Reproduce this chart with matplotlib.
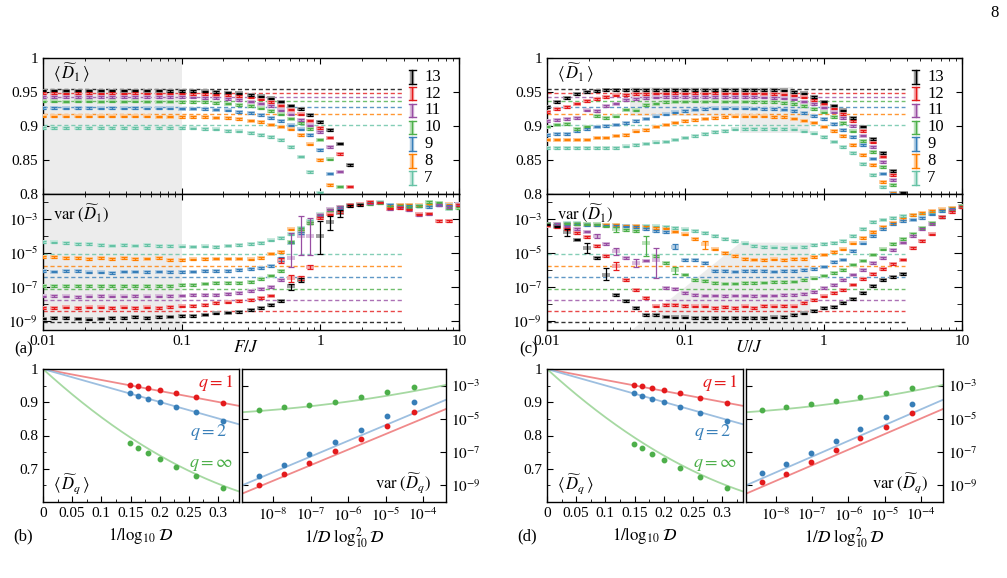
import numpy as np
import matplotlib
matplotlib.use("Agg")
import matplotlib.pyplot as plt
from matplotlib.colors import to_rgb
from matplotlib.ticker import FixedLocator, FuncFormatter, NullFormatter, LogLocator

plt.rcParams['font.family'] = 'serif'
plt.rcParams['font.serif'] = ['Liberation Serif', 'DejaVu Serif']
plt.rcParams['mathtext.fontset'] = 'stix'
plt.rcParams['font.size'] = 11
plt.rcParams['axes.linewidth'] = 1.0

# --- system sizes and colours ---
sizes = [13, 12, 11, 10, 9, 8, 7]
colors = ['#000000', '#e41a1c', '#984ea3', '#4daf4a', '#377eb8', '#ff7f00', '#66c2a5']

# --- x grids (F/J for panel a, U/J for panel c) ---
xa = [0.01, 0.0121, 0.0147, 0.0178, 0.0215, 0.0261, 0.0316, 0.0383, 0.0464, 0.0562,
      0.0681, 0.0825, 0.1, 0.121, 0.147, 0.178, 0.215, 0.261, 0.316, 0.373,
      0.439, 0.518, 0.611, 0.72, 0.848, 1.0, 1.18, 1.39, 1.64, 1.93,
      2.28, 2.68, 3.16, 3.73, 4.39, 5.18, 6.11, 7.2, 8.48, 10.0]
xc = [0.01, 0.0118, 0.0139, 0.0164, 0.0193, 0.0228, 0.0268, 0.0316, 0.0373, 0.0439,
      0.0518, 0.0611, 0.072, 0.0848, 0.1, 0.118, 0.139, 0.164, 0.193, 0.228,
      0.268, 0.316, 0.373, 0.439, 0.518, 0.611, 0.72, 0.848, 1.0, 1.18,
      1.39, 1.64, 1.93, 2.28, 2.68, 3.16, 3.73, 4.39, 5.18, 6.11,
      7.2, 8.48, 10.0]

# --- reference (dashed) levels, same in both panels ---
ref_mean = [0.954, 0.949, 0.943, 0.937, 0.928, 0.917, 0.902]
ref_var = [-9.08, -8.43, -7.75, -7.10, -6.43, -5.75, -5.04]  # log10
ref_xmax = 3.9

# --- panel (a): <D1> vs F/J ---
mean_a = [
    [0.9522, 0.9521, 0.9520, 0.9522, 0.9521, 0.9520, 0.9521, 0.9522, 0.9520, 0.9521, 0.9520, 0.9519, 0.9518,
     0.9515, 0.951, 0.950, 0.949, 0.948, 0.946, 0.9435, 0.9405, 0.936, 0.930, 0.925, 0.916, 0.906, 0.894, 0.874, 0.843],
    [0.9482, 0.9481, 0.9480, 0.9482, 0.9481, 0.9480, 0.9481, 0.9480, 0.9481, 0.9480, 0.9479, 0.9479, 0.9478,
     0.9475, 0.947, 0.9462, 0.9452, 0.944, 0.942, 0.939, 0.935, 0.930, 0.924, 0.917, 0.908, 0.897, 0.883, 0.859, 0.811],
    [0.9428, 0.9427, 0.9426, 0.9428, 0.9427, 0.9426, 0.9427, 0.9426, 0.9427, 0.9426, 0.9425, 0.9424, 0.9422,
     0.942, 0.9415, 0.941, 0.940, 0.938, 0.936, 0.933, 0.929, 0.923, 0.917, 0.909, 0.901, 0.891, 0.869, 0.833],
    [0.9362, 0.9361, 0.9360, 0.9362, 0.9361, 0.9360, 0.9361, 0.9360, 0.9361, 0.9360, 0.9359, 0.9358, 0.9357,
     0.9355, 0.935, 0.934, 0.933, 0.931, 0.929, 0.926, 0.922, 0.917, 0.911, 0.904, 0.896, 0.880, 0.851, 0.811],
    [0.9262, 0.9261, 0.9260, 0.9262, 0.9261, 0.9260, 0.9261, 0.9260, 0.9261, 0.9260, 0.9259, 0.9258, 0.9257,
     0.9255, 0.925, 0.924, 0.923, 0.921, 0.919, 0.916, 0.912, 0.907, 0.901, 0.895, 0.887, 0.865, 0.830],
    [0.9142, 0.9141, 0.9140, 0.9142, 0.9141, 0.9140, 0.9141, 0.9140, 0.9141, 0.9140, 0.9139, 0.9138, 0.9137,
     0.9135, 0.913, 0.9125, 0.912, 0.910, 0.908, 0.906, 0.902, 0.899, 0.895, 0.887, 0.873, 0.850, 0.813],
    [0.8972, 0.8971, 0.8970, 0.8972, 0.8971, 0.8970, 0.8971, 0.8970, 0.8971, 0.8970, 0.8969, 0.8968, 0.8967,
     0.8965, 0.896, 0.895, 0.893, 0.892, 0.890, 0.887, 0.884, 0.879, 0.869, 0.855, 0.832, 0.802],
]
# log10 var(D1) vs F/J
var_a = [
    [-8.85, -8.82, -8.82, -8.85, -8.9, -8.85, -8.8, -8.8, -8.75, -8.8, -8.75, -8.73, -8.7, -8.68, -8.62,
     -8.55, -8.5, -8.45, -8.33, -8.24, -8.06, -7.8, -6.96, -6.57, None, -4.0, -3.2, -2.65, -2.25, -2.2],
    [-8.25, -8.22, -8.2, -8.22, -8.2, -8.2, -8.22, -8.2, -8.22, -8.2, -8.22, -8.18, -8.14, -8.1, -8.05,
     -7.94, -7.9, -7.8, -7.75, -7.65, -7.5, -5.45, -6.5, -6.47, -5.82, -2.95, -2.75, -2.6, -2.2, -2.16,
     -2.0, -2.05, -2.4, -2.35, -2.45, -2.75, -2.7, -3.14, -3.14, -2.2],
    [-7.55, -7.52, -7.55, -7.57, -7.55, -7.52, -7.55, -7.55, -7.52, -7.55, -7.55, -7.52, -7.5, -7.48, -7.48,
     -7.45, -7.4, -7.35, -7.25, -7.1, -7.0, -6.6, -5.3, -4.0, -4.0, -2.8, -2.45, -2.33, -2.2, -2.16,
     -2.1, -2.05, -2.45, -2.3, -2.5, -2.8, -2.75, -2.2, -2.3, -2.16],
    [-6.95, -6.95, -6.95, -6.93, -6.95, -6.95, -6.93, -6.95, -6.95, -6.95, -6.93, -6.93, -6.9, -6.88, -6.8,
     -6.75, -6.75, -6.75, -6.7, -6.53, -6.33, -6.08, -4.37, -3.59, -3.24, -2.8, -2.48, -2.33, -2.2, -2.16,
     -2.14, -2.08, -2.3, -2.25, -2.3, -2.25, -2.02, -2.05, -2.35, -2.35],
    [-6.05, -6.1, -6.08, -6.08, -6.15, -6.15, -6.18, -6.1, -6.1, -6.12, -6.1, -6.12, -6.12, -6.1, -6.08,
     -6.07, -6.05, -6.0, -5.95, -5.88, -5.78, -5.35, -4.4, -3.82, -3.24, -2.85, -2.5, -2.35, -2.2, -2.16,
     -2.08, -2.05, -2.2, -2.25, -2.25, -2.25, -2.3, -2.22, -2.22, -2.2],
    [-5.25, -5.25, -5.3, -5.28, -5.35, -5.3, -5.35, -5.28, -5.35, -5.33, -5.3, -5.4, -5.42, -5.38, -5.36,
     -5.33, -5.33, -5.33, -5.38, -5.3, -5.04, -4.95, -3.63, -3.72, -3.24, -2.85, -2.48, -2.33, -2.2, -2.16,
     -2.05, -2.05, -2.25, -2.2, -2.2, -2.22, -2.2, -2.16, -2.16, -2.2],
    [-4.37, -4.39, -4.41, -4.47, -4.5, -4.55, -4.57, -4.55, -4.57, -4.55, -4.59, -4.6, -4.62, -4.63, -4.62,
     -4.65, -4.57, -4.52, -4.5, -4.42, -4.27, -4.12, -3.92, -3.53, -3.14, -2.75, -2.5, -2.35, -2.22, -2.16,
     -2.05, -2.03, -2.2, -2.2, -2.2, -2.25, -2.16, -2.16, -2.4, -2.25],
]
# large error bars: (size, index) -> (upper, lower) in log10
big_a = {(11, 22): (-3.85, -5.8), (11, 23): (-2.85, -5.1), (11, 24): (-2.95, -5.1),
         (13, 25): (-3.15, -5.05), (13, 26): (-2.85, -3.65), (13, 27): (-2.5, -2.9),
         (12, 22): (-6.3, -6.7), (13, 22): (-6.8, -7.15), (12, 21): (-5.3, -5.6),
         (12, 24): (-5.7, -5.95), (9, 21): (-5.25, -5.5), (12, 23): (-6.35, -6.6), (13, 23): (-6.45, -6.7)}

# --- panel (c): <D1> vs U/J ---
mean_c = [
    [0.928, 0.935, 0.941, 0.947, 0.950, 0.9515, 0.9525, 0.9530, 0.9531, 0.9530, 0.9531, 0.9530, 0.9531, 0.9530,
     0.9531, 0.9530, 0.9531, 0.9530, 0.9530, 0.9531, 0.9530, 0.9529, 0.9528, 0.9527, 0.9523, 0.950, 0.948,
     0.943, 0.936, 0.930, 0.923, 0.912, 0.899, 0.881, 0.860, 0.834, 0.802],
    [0.921, 0.925, 0.928, 0.933, 0.937, 0.940, 0.943, 0.945, 0.946, 0.947, 0.9475, 0.948, 0.948, 0.9481,
     0.948, 0.9481, 0.948, 0.9481, 0.948, 0.948, 0.9479, 0.9478, 0.9476, 0.9472, 0.9465, 0.945, 0.942,
     0.938, 0.933, 0.926, 0.918, 0.907, 0.893, 0.876, 0.855, 0.828, 0.797],
    [0.907, 0.909, 0.910, 0.912, 0.923, 0.922, 0.929, 0.933, 0.938, 0.940, 0.941, 0.942, 0.9425, 0.9426,
     0.9425, 0.9426, 0.9425, 0.9426, 0.9425, 0.9425, 0.9424, 0.9423, 0.942, 0.9415, 0.9405, 0.939, 0.936,
     0.932, 0.927, 0.920, 0.912, 0.900, 0.886, 0.869, 0.847, 0.821],
    [0.899, 0.902, 0.903, 0.896, 0.899, 0.915, 0.912, 0.914, 0.924, 0.923, 0.931, 0.933, 0.935, 0.9358,
     0.936, 0.9361, 0.936, 0.9361, 0.936, 0.936, 0.9359, 0.9357, 0.9354, 0.935, 0.934, 0.932, 0.929,
     0.925, 0.920, 0.913, 0.904, 0.892, 0.878, 0.862, 0.840, 0.813],
    [0.887, 0.888, 0.888, 0.893, 0.896, 0.899, 0.900, 0.902, 0.904, 0.907, 0.911, 0.914, 0.917, 0.920,
     0.922, 0.924, 0.925, 0.9258, 0.926, 0.926, 0.9259, 0.9257, 0.9254, 0.925, 0.924, 0.922, 0.919,
     0.915, 0.910, 0.903, 0.894, 0.884, 0.872, 0.852, 0.830, 0.801],
    [0.880, 0.880, 0.880, 0.880, 0.880, 0.883, 0.883, 0.886, 0.887, 0.892, 0.894, 0.899, 0.902, 0.905,
     0.907, 0.909, 0.911, 0.912, 0.913, 0.914, 0.914, 0.9142, 0.914, 0.9135, 0.913, 0.911, 0.908,
     0.905, 0.899, 0.893, 0.885, 0.872, 0.857, 0.843, 0.818, 0.802],
    [0.868, 0.868, 0.868, 0.868, 0.868, 0.868, 0.868, 0.868, 0.870, 0.872, 0.874, 0.876, 0.877, 0.880,
     0.883, 0.885, 0.888, 0.891, 0.893, 0.895, 0.896, 0.896, 0.896, 0.896, 0.8955, 0.895, 0.892,
     0.889, 0.884, 0.877, 0.869, 0.860, 0.844, 0.828, 0.810, 0.795],
]
var_c = [
    [-3.33, -3.45, -3.78, -4.22, -4.7, -5.29, -6.27, -7.45, -7.84, -8.24, -8.63, -8.63, -8.73, -8.78, -8.78,
     -8.8, -8.8, -8.82, -8.82, -8.83, -8.82, -8.8, -8.8, -8.78, -8.74, -8.65, -8.55, -8.4, -8.24, -8.18,
     -7.94, -7.7, -7.35, -6.96, -6.57, -6.4, -6.24],
    [-3.4, -3.5, -3.6, -3.82, -4.06, -4.6, -5.2, -5.75, -6.57, -7.16, -7.65, -8.14, -8.04, -8.04, -8.1,
     -8.14, -8.14, -8.24, -8.18, -8.24, -8.14, -8.24, -8.1, -8.14, -8.1, -8.14, -7.94, -7.75, -7.55, -7.35,
     -7.16, -6.86, -6.55, -6.25, -5.95, -5.65, -5.39, -4.7, -4.3, -3.92, -2.9, -2.6, -2.3],
    [-3.33, -3.3, -3.45, -3.6, -3.75, -4.02, -4.5, -4.9, -5.3, -5.59, -5.45, -5.4, -7.06, -7.1, -7.35,
     -7.45, -7.5, -7.5, -7.52, -7.5, -7.5, -7.52, -7.5, -7.5, -7.48, -7.48, -7.4, -7.3, -7.06, -6.9,
     -6.6, -6.27, -6.0, -5.59, -5.29, -4.85, -4.4, -4.0, -3.6, -3.3, -2.9, -2.5, -2.3],
    [-3.3, -3.3, -3.28, -3.3, -3.33, -3.33, -3.45, -3.63, -3.68, -3.73, -4.4, -5.2, -5.6, -5.98, -6.27,
     -6.6, -6.65, -6.75, -6.8, -6.8, -6.78, -6.76, -6.74, -6.72, -6.72, -6.68, -6.6, -6.5, -6.33, -6.2,
     -6.0, -5.69, -5.45, -5.1, -4.8, -4.5, -4.2, -3.9, -3.53, -3.25, -2.9, -2.45, -2.25],
    [-3.33, -3.33, -3.3, -3.33, -3.35, -3.35, -3.4, -3.42, -3.45, -3.5, -3.59, -3.7, -3.78, -4.65, -5.43,
     -5.43, -5.6, -6.08, -6.08, -6.1, -6.08, -6.06, -6.08, -6.1, -6.08, -6.05, -6.0, -5.95, -5.8, -5.55,
     -5.39, -4.9, -4.45, -4.02, -3.6, -3.3, -3.15, -3.05, -2.95, -2.75, -2.55, -2.4, -2.25],
    [-3.33, -3.33, -3.3, -3.3, -3.33, -3.35, -3.37, -3.38, -3.4, -3.42, -3.47, -3.53, -3.58, -3.75, -3.92,
     -4.2, -4.5, -4.8, -5.0, -5.2, -5.35, -5.39, -5.4, -5.38, -5.4, -5.35, -5.35, -5.25, -5.1, -4.95,
     -4.8, -4.45, -4.12, -3.78, -3.5, -3.27, -3.0, -2.8, -2.65, -2.55, -2.45, -2.35, -2.25],
    [-3.29, -3.29, -3.25, -3.27, -3.3, -3.33, -3.35, -3.37, -3.4, -3.43, -3.42, -3.45, -3.47, -3.55, -3.63,
     -3.72, -3.82, -4.02, -4.18, -4.3, -4.45, -4.6, -4.65, -4.68, -4.7, -4.68, -4.65, -4.55, -4.5, -4.42,
     -4.3, -4.0, -3.6, -3.2, -3.05, -2.95, -2.85, -2.8, -2.7, -2.6, -2.5, -2.35, -2.25],
]
big_c = {(13, 2): (-3.63, -4.02), (13, 4): (-4.4, -5.0), (13, 6): (-5.9, -6.6), (12, 7): (-5.55, -6.0),
         (11, 7): (-4.7, -5.1), (11, 9): (-5.35, -5.8), (11, 11): (-4.7, -6.47), (10, 10): (-4.0, -5.2),
         (10, 13): (-5.8, -6.25), (8, 16): (-4.3, -4.8), (9, 13): (-4.5, -4.8), (10, 7): (-3.5, -3.8),
         (11, 5): (-3.9, -4.15)}

# grey regions in panel (c)
shade_c_rects = [(0.04, 0.6, 0.914, 0.958), (0.25, 0.8, 0.89, 0.935)]
shade_c_var_x = [0.04, 0.25, 0.8, 0.8]
shade_c_var_y = [10 ** -9.6, 10 ** -4.4, 10 ** -4.4, 10 ** -9.6]

# --- panels (b), (d): scaling with Hilbert space dimension ---
dims = [5200300, 1352078, 352716, 92378, 24310, 6435, 1716]  # L = 13 ... 7
b_mean = {'1': [0.953, 0.948, 0.943, 0.936, 0.927, 0.915, 0.898],
          '2': [0.927, 0.920, 0.911, 0.901, 0.887, 0.870, 0.845],
          'inf': [0.777, 0.763, 0.747, 0.729, 0.705, 0.677, 0.642]}
b_var = {'1': [-9.0, -8.34, -7.64, -6.94, -6.24, -5.44, -4.56],
         '2': [-8.44, -7.8, -7.1, -6.4, -5.66, -4.84, -4.0],
         'inf': [-4.46, -4.3, -4.14, -3.96, -3.7, -3.4, -3.1]}
d_mean = {'1': [0.953, 0.948, 0.943, 0.937, 0.927, 0.914, 0.897],
          '2': [0.927, 0.920, 0.911, 0.901, 0.887, 0.869, 0.844],
          'inf': [0.775, 0.761, 0.745, 0.725, 0.702, 0.675, 0.642]}
d_var = {'1': [-8.8, -8.3, -7.6, -6.86, -6.16, -5.46, -4.64],
         '2': [-8.26, -7.74, -7.06, -6.34, -5.6, -4.9, -4.1],
         'inf': [-4.46, -4.26, -4.1, -3.9, -3.66, -3.46, -3.14]}
# fit coefficients: mean = c0 + c1 x + c2 x^2 ; log10 var = c0 + c1 u + c2 u^2, u = log10(x) + 6
fit_mean = {'1': [1.0, -0.33, 0.0], '2': [1.0, -0.495, 0.0], 'inf': [1.0, -1.6, 1.5]}
fit_var = {'1': [-6.85, 0.94, 0.0], '2': [-6.32, 0.95, 0.0], 'inf': [-3.96, 0.309, 0.0291]}
q_pt_colors = {'1': '#e41a1c', '2': '#377eb8', 'inf': '#4daf4a'}
q_line_colors = {'1': '#f08a8b', '2': '#9dbfe0', 'inf': '#a6d9a2'}
q_labels = {'1': r'$q=1$', '2': r'$q=2$', 'inf': r'$q=\infty$'}

W, H = 1007, 578
TICK_FS = 11


def pos(x0, y0, x1, y1):
    return [x0 / W, 1 - y1 / H, (x1 - x0) / W, (y1 - y0) / H]


def light(c, a=0.38):
    r, g, b = to_rgb(c)
    return (1 - a * (1 - r), 1 - a * (1 - g), 1 - a * (1 - b))


def points(ax, x, y, lo, hi, c):
    ax.plot(x, y, ls='none', marker='_', ms=5.8, mew=2.8, color=light(c), zorder=3)
    ax.errorbar(x, y, yerr=[lo, hi], fmt='none', ecolor=c, elinewidth=0.9,
                capsize=1.9, capthick=0.9, zorder=4)


def pow_fmt(v, p):
    e = int(round(np.log10(v)))
    return r'$10^{%d}$' % e


def style_top(ax):
    ax.set_xscale('log')
    ax.set_xlim(0.01, 10)
    ax.tick_params(which='both', direction='in', top=True, right=True, labelsize=TICK_FS)
    ax.tick_params(which='major', length=4)
    ax.tick_params(which='minor', length=2)
    ax.xaxis.set_minor_locator(LogLocator(subs=np.arange(2, 10)))
    ax.xaxis.set_minor_formatter(NullFormatter())


def draw_mean(ax, x, data):
    style_top(ax)
    ax.set_ylim(0.8, 1.0)
    ax.set_yticks([0.8, 0.85, 0.9, 0.95, 1.0])
    ax.set_yticklabels(['0.8', '0.85', '0.9', '0.95', '1'])
    ax.tick_params(labelbottom=False)
    for i in range(6, -1, -1):
        c = colors[i]
        ax.plot([0.01, ref_xmax], [ref_mean[i], ref_mean[i]], ls=(0, (3, 2)), lw=1.0,
                color=c, alpha=0.8, zorder=2)
        y = np.array(data[i], dtype=float)
        xx = np.array(x[:len(y)])
        e = np.full(len(y), 0.0012)
        points(ax, xx, y, e, e, c)
    ax.text(0.025, 0.885, r'$\langle\,\widetilde{D}_1\,\rangle$', transform=ax.transAxes,
            fontsize=12, va='center')
    # legend with error-bar glyphs
    for i, L in enumerate(sizes):
        yc = 0.862 - 0.124 * i
        c = colors[i]
        ax.plot([0.888, 0.888], [yc - 0.05, yc + 0.05], transform=ax.transAxes, color=light(c),
                lw=3.2, solid_capstyle='butt', zorder=5)
        ax.plot([0.888, 0.888], [yc - 0.05, yc + 0.05], transform=ax.transAxes, color=c,
                lw=1.0, zorder=6)
        for yy in (yc - 0.05, yc + 0.05):
            ax.plot([0.880, 0.896], [yy, yy], transform=ax.transAxes, color=c, lw=1.0, zorder=6)
        ax.text(0.916, yc, str(L), transform=ax.transAxes, va='center', ha='left', fontsize=12)


def draw_var(ax, x, data, big, xlabel, panel):
    style_top(ax)
    ax.set_yscale('log')
    ax.set_ylim(10 ** -9.52, 10 ** -1.55)
    ax.yaxis.set_major_locator(FixedLocator([1e-9, 1e-7, 1e-5, 1e-3]))
    ax.yaxis.set_minor_locator(FixedLocator([1e-8, 1e-6, 1e-4, 1e-2]))
    ax.yaxis.set_major_formatter(FuncFormatter(pow_fmt))
    ax.yaxis.set_minor_formatter(NullFormatter())
    ax.tick_params(axis='y', which='major', length=6)
    ax.tick_params(axis='y', which='minor', length=3.5)
    ax.set_xticks([0.01, 0.1, 1, 10])
    ax.set_xticklabels(['0.01', '0.1', '1', '10'])
    for i in range(6, -1, -1):
        c = colors[i]
        L = sizes[i]
        ax.plot([0.01, ref_xmax], [10 ** ref_var[i]] * 2, ls=(0, (3, 2)), lw=1.0,
                color=c, alpha=0.8, zorder=2)
        v = np.array(data[i], dtype=float)
        xx = np.array(x[:len(v)])
        y = 10 ** v
        lo = y - 10 ** (v - 0.05)
        hi = 10 ** (v + 0.05) - y
        for (LL, k), (top, bot) in big.items():
            if LL == L and k < len(v):
                lo[k] = y[k] - 10 ** bot
                hi[k] = 10 ** top - y[k]
        points(ax, xx, y, lo, hi, c)
    ax.text(0.025, 0.86, r'$\mathrm{var}\;(\widetilde{D}_1)$', transform=ax.transAxes,
            fontsize=12, va='center')
    ax.text(0.487, -0.135, xlabel, transform=ax.transAxes, ha='center', va='center', fontsize=12.5)
    ax.text(-0.068, -0.145, panel, transform=ax.transAxes, ha='left', va='center', fontsize=12)


def draw_scaling(axl, axr, mean, var, panel):
    d = np.array(dims, dtype=float)
    xm = 1 / np.log10(d)
    xv = 1 / (d * np.log10(d) ** 2)
    xs = np.linspace(0, 0.336, 200)
    us = np.linspace(-8.82, -3.4, 200)
    for q in ['1', '2', 'inf']:
        cm = fit_mean[q]
        axl.plot(xs, cm[0] + cm[1] * xs + cm[2] * xs ** 2, color=q_line_colors[q], lw=1.3, zorder=2)
        axl.plot(xm, mean[q], 'o', ms=3.2, color=q_pt_colors[q], zorder=3)
        cv = fit_var[q]
        u = us + 6
        axr.plot(10 ** us, 10 ** (cv[0] + cv[1] * u + cv[2] * u ** 2), color=q_line_colors[q], lw=1.3, zorder=2)
        axr.plot(xv, 10 ** np.array(var[q]), 'o', ms=3.2, color=q_pt_colors[q], zorder=3)
    axl.set_xlim(0, 0.336)
    axl.set_ylim(0.6, 1.0)
    axl.set_xticks([0, 0.05, 0.1, 0.15, 0.2, 0.25, 0.3])
    axl.set_xticklabels(['0', '0.05', '0.1', '0.15', '0.2', '0.25', '0.3'])
    axl.set_xticks([0.025, 0.075, 0.125, 0.175, 0.225, 0.275, 0.325], minor=True)
    axl.set_yticks([0.7, 0.8, 0.9, 1.0])
    axl.set_yticklabels(['0.7', '0.8', '0.9', '1'])
    axl.set_yticks([0.65, 0.75, 0.85, 0.95], minor=True)
    axl.tick_params(which='both', direction='in', labelsize=TICK_FS)
    axl.tick_params(which='major', length=4)
    axl.tick_params(which='minor', length=2.5)
    axl.text(0.327, 0.958, q_labels['1'], color=q_pt_colors['1'], ha='right', va='center', fontsize=13)
    axl.text(0.316, 0.812, q_labels['2'], color=q_pt_colors['2'], ha='right', va='center', fontsize=13)
    axl.text(0.326, 0.712, q_labels['inf'], color=q_pt_colors['inf'], ha='right', va='center', fontsize=13)
    axl.text(0.05, 0.13, r'$\langle\,\widetilde{D}_q\,\rangle$', transform=axl.transAxes,
             va='center', fontsize=12)
    axl.text(0.5, -0.255, r'$1/\log_{10}\,\mathcal{D}$', transform=axl.transAxes,
             ha='center', va='center', fontsize=12)
    axl.text(-0.15, -0.255, panel, transform=axl.transAxes, ha='left', va='center', fontsize=12)

    axr.set_xscale('log')
    axr.set_yscale('log')
    axr.set_xlim(10 ** -8.82, 10 ** -3.4)
    axr.set_ylim(1e-10, 1e-2)
    axr.set_xticks([1e-8, 1e-7, 1e-6, 1e-5, 1e-4])
    axr.set_xticklabels([r'$10^{-8}$', r'$10^{-7}$', r'$10^{-6}$', r'$10^{-5}$', r'$10^{-4}$'])
    axr.xaxis.set_minor_locator(LogLocator(subs=np.arange(2, 10)))
    axr.xaxis.set_minor_formatter(NullFormatter())
    axr.yaxis.set_major_locator(FixedLocator([1e-9, 1e-7, 1e-5, 1e-3]))
    axr.yaxis.set_minor_locator(FixedLocator([]))
    axr.yaxis.set_major_formatter(FuncFormatter(pow_fmt))
    axr.yaxis.tick_right()
    axr.tick_params(which='both', direction='in', left=True, right=True, labelsize=TICK_FS)
    axr.tick_params(which='major', length=4)
    axr.tick_params(which='minor', length=2)
    axr.text(0.925, 0.14, r'$\mathrm{var}\;(\widetilde{D}_q)$', transform=axr.transAxes,
             ha='right', va='center', fontsize=12)
    axr.text(0.5, -0.27, r'$1/\mathcal{D}\;\log_{10}^{2}\mathcal{D}$', transform=axr.transAxes,
             ha='center', va='center', fontsize=12)


fig = plt.figure(figsize=(W / 100, H / 100), dpi=100)

# panel (a)
ax_am = fig.add_axes(pos(43, 58, 459, 194))
ax_av = fig.add_axes(pos(43, 194, 459, 330))
for ax in (ax_am, ax_av):
    ax.axvspan(0.01, 0.1, color='#ececec', zorder=0, lw=0)
draw_mean(ax_am, xa, mean_a)
draw_var(ax_av, xa, var_a, big_a, r'$F/J$', '(a)')

# panel (c)
ax_cm = fig.add_axes(pos(547, 58, 962, 194))
ax_cv = fig.add_axes(pos(547, 194, 962, 330))
for x0, x1, y0, y1 in shade_c_rects:
    ax_cm.fill([x0, x1, x1, x0], [y0, y0, y1, y1], color='#ececec', lw=0, zorder=0)
ax_cv.fill(shade_c_var_x, shade_c_var_y, color='#ececec', lw=0, zorder=0)
draw_mean(ax_cm, xc, mean_c)
draw_var(ax_cv, xc, var_c, big_c, r'$U/J$', '(c)')

# panels (b), (d)
ax_bl = fig.add_axes(pos(43, 369, 239, 502))
ax_br = fig.add_axes(pos(242, 369, 446, 502))
draw_scaling(ax_bl, ax_br, b_mean, b_var, '(b)')
ax_dl = fig.add_axes(pos(547, 369, 743, 502))
ax_dr = fig.add_axes(pos(746, 369, 943, 502))
draw_scaling(ax_dl, ax_dr, d_mean, d_var, '(d)')

fig.text(0.988, 0.978, '8', ha='center', va='center', fontsize=12)

fig.savefig('out.png', dpi=100)
